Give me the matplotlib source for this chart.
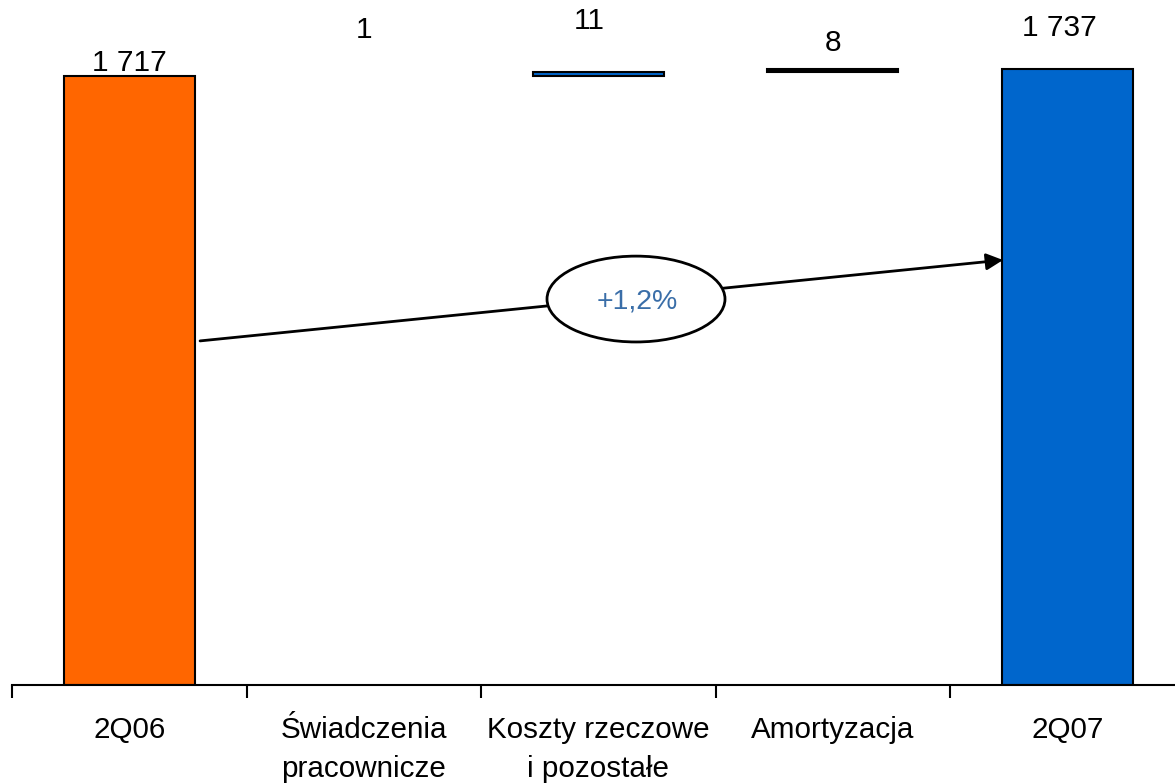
import matplotlib.pyplot as plt
from matplotlib.patches import Ellipse

plt.rcParams['font.family'] = ['Liberation Sans', 'DejaVu Sans']

categories = ['2Q06', 'Świadczenia\npracownicze', 'Koszty rzeczowe\ni pozostałe',
              'Amortyzacja', '2Q07']
start_value = 1717
deltas = [1, 11, 8]
end_value = 1737
growth_label = '+1,2%'


def main():
    values = [start_value] + deltas + [end_value]
    bottoms = [0]
    running = start_value
    for d in deltas:
        bottoms.append(running)
        running += d
    bottoms.append(0)
    tops = [b + v for b, v in zip(bottoms, values)]

    colors = ['#FF6600', 'white', '#0066CC', 'black', '#0066CC']
    edges = ['black', 'white', 'black', 'black', 'black']
    widths = [1.5, 0, 1.5, 1.5, 1.5]
    # label offsets in points (dx, dy) from bar top
    offsets = [(0, 9), (0, 33), (-6.5, 36.5), (0, 18.5), (-5.5, 29.5)]

    fig = plt.figure(figsize=(11.75, 7.84), dpi=100)
    ax = fig.add_axes([12 / 1175, 1 - 685 / 784, 1172.5 / 1175, 685 / 784])

    x = range(len(categories))
    ax.bar(x, values, bottom=bottoms, width=0.56, color=colors,
           edgecolor=edges, linewidth=widths, zorder=2)

    for i, (v, t) in enumerate(zip(values, tops)):
        ax.annotate(f'{v:,}'.replace(',', ' '), xy=(i, t),
                    xytext=offsets[i], textcoords='offset points',
                    ha='center', va='center', fontsize=21.5)

    ax.set_xlim(-0.5, len(categories) - 0.5)
    ax.set_ylim(0, 1931)

    # growth arrow with ellipse label
    ax.annotate('', xy=(3.726, 1198), xytext=(0.302, 970),
                arrowprops=dict(arrowstyle='-|>', color='black', lw=2,
                                mutation_scale=25, shrinkA=0, shrinkB=0),
                zorder=3)
    ax.add_patch(Ellipse((2.161, 1088), 0.759, 242, facecolor='white',
                         edgecolor='black', linewidth=2, zorder=4))
    ax.text(2.165, 1081, growth_label, ha='center', va='center',
            fontsize=20.5, color='#3A6EA8', zorder=5)

    for s in ['left', 'right', 'top']:
        ax.spines[s].set_visible(False)
    ax.spines['bottom'].set_linewidth(1.5)
    ax.set_yticks([])
    ax.set_xticks(list(x))
    ax.set_xticklabels(categories, fontsize=21.3, linespacing=1.48)
    ax.set_xticks([i - 0.5 for i in range(len(categories) + 1)], minor=True)
    ax.tick_params(axis='x', which='major', length=0, pad=22.5)
    ax.tick_params(axis='x', which='minor', length=9, width=1.5, direction='out')

    fig.savefig('out.png', dpi=100)


if __name__ == "__main__":
    main()
